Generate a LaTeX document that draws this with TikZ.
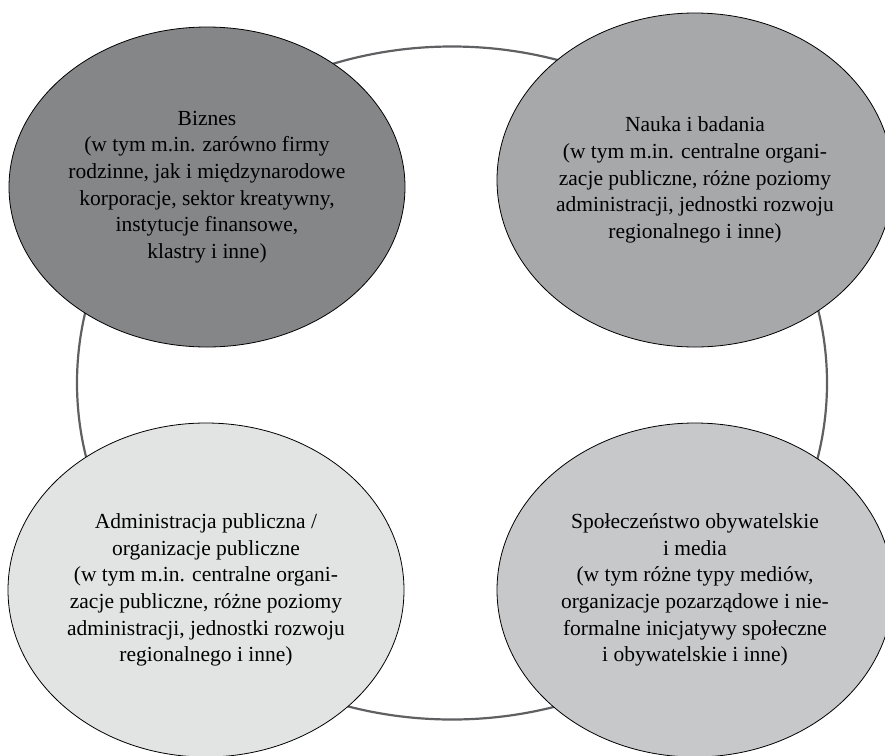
\documentclass[tikz,border=0pt]{standalone}
\usepackage{fontspec}
\setmainfont{Liberation Serif}
\usetikzlibrary{shapes.geometric}
\definecolor{ringline}{HTML}{5F6062}
\definecolor{fillbiz}{HTML}{858688}
\definecolor{fillsci}{HTML}{A7A8AA}
\definecolor{filladm}{HTML}{E2E3E3}
\definecolor{fillsoc}{HTML}{C7C8CA}
\begin{document}
\begin{tikzpicture}[x=1pt,y=-1pt,
  sector/.style={ellipse, draw=black, line width=0.8pt,
    minimum width=396pt, minimum height=330pt, inner sep=0pt,
    align=center, font=\fontsize{21.5}{26.6}\selectfont},
  ring/.style={ellipse, draw=ringline, line width=2.2pt,
    minimum width=750pt, minimum height=673pt, inner sep=0pt}]
\useasboundingbox (0,0) rectangle (885,755);
% shared ring linking the four sectors
\node[ring] (ring) at (452,383) {};
% the four sectors
\node[sector, fill=fillbiz, minimum height=320pt] (biz) at (207,187)
  {Biznes\\(w tym m.in. zarówno firmy\\rodzinne, jak i międzynarodowe\\korporacje, sektor kreatywny,\\instytucje finansowe,\\klastry i inne)};
\node[sector, fill=fillsci, minimum height=334pt] (sci) at (695,180)
  {Nauka i badania\\(w tym m.in. centralne organi-\\zacje publiczne, różne poziomy\\administracji, jednostki rozwoju\\regionalnego i inne)};
\node[sector, fill=filladm, minimum height=334pt] (adm) at (206,590)
  {Administracja publiczna /\\organizacje publiczne\\(w tym m.in. centralne organi-\\zacje publiczne, różne poziomy\\administracji, jednostki rozwoju\\regionalnego i inne)};
\node[sector, fill=fillsoc, minimum height=334pt] (soc) at (695,590)
  {Społeczeństwo obywatelskie\\i media\\(w tym różne typy mediów,\\organizacje pozarządowe i nie-\\formalne inicjatywy społeczne\\i obywatelskie i inne)};
\end{tikzpicture}
\end{document}
